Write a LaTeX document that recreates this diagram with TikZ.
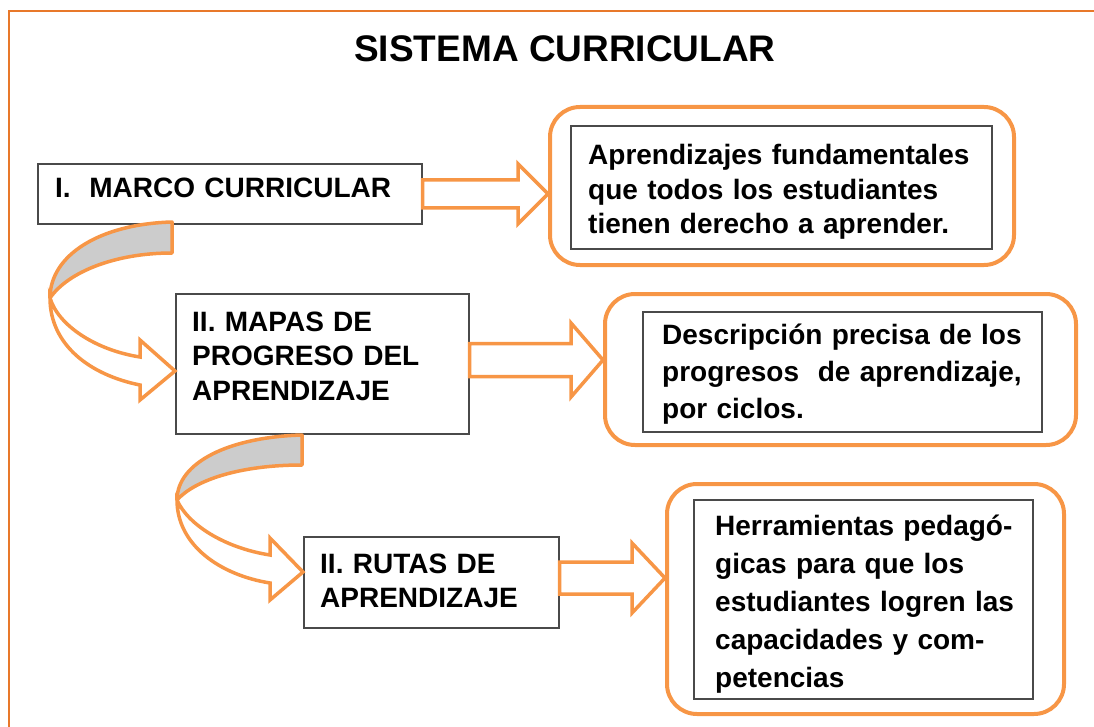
\documentclass[tikz,border=0pt]{standalone}
\usepackage{fontspec}
\setmainfont{Liberation Sans}
\usetikzlibrary{calc}
\definecolor{frameor}{HTML}{E8782A}
\definecolor{boxor}{HTML}{F79646}
\definecolor{bandgray}{HTML}{CCCCCC}
\definecolor{boxline}{HTML}{4A4A4A}
\tikzset{
  sqbox/.style={draw=boxline, line width=1.7pt, inner sep=0pt, anchor=north west},
  rbox/.style={draw=boxor, line width=4pt, rounded corners=30pt, inner sep=0pt, anchor=north west},
  txt/.style={font=\bfseries\fontsize{28}{34.5}\selectfont, inner sep=0pt, anchor=base west, align=left, text width=#1},
  blockarrow/.style={draw=boxor, fill=white, line width=3.5pt, line join=miter},
  curvegray/.style={draw=boxor, fill=bandgray, line width=3.5pt, line join=round},
  curvewhite/.style={draw=boxor, fill=white, line width=3.5pt, line join=miter},
}
\newcommand{\blockarr}[5]{% #1 start, #2 tip, #3 shaft half, #4 head half, #5 head length
  \path[blockarrow] let \p1=(#1), \p2=(#2) in
    (\x1,\y2+#3) -- (\x2-#5,\y2+#3) -- (\x2-#5,\y2+#4) -- (\x2,\y2)
    -- (\x2-#5,\y2-#4) -- (\x2-#5,\y2-#3) -- (\x1,\y2-#3) -- cycle;}
\begin{document}
\begin{tikzpicture}[x=1pt,y=-1pt]
\useasboundingbox (0,0) rectangle (1094,727);
% outer frame
\draw[frameor, line width=2.2pt] (9,727) -- (9,11) -- (1094,11);
% title
\node[font=\bfseries\fontsize{37}{40}\selectfont, inner sep=0pt, anchor=base] (title) at (565,62) {SISTEMA CURRICULAR};

% left boxes
\node[sqbox, minimum width=384pt, minimum height=60pt] (A) at (37,163) {};
\node[sqbox, minimum width=293pt, minimum height=140pt] (B) at (175,293) {};
\node[sqbox, minimum width=255pt, minimum height=91pt] (C) at (303,536) {};

\node[txt=360pt] (tA) at (55,198) {I.\ \ MARCO CURRICULAR};
\node[txt=270pt] (tB) at (192,331) {II. MAPAS DE\\PROGRESO DEL\\APRENDIZAJE};
\node[txt=230pt] (tC) at (320,573) {II. RUTAS DE\\APRENDIZAJE};

% right rounded boxes
\node[rbox, minimum width=464pt, minimum height=158pt] (R1) at (548,105) {};
\node[rbox, minimum width=471pt, minimum height=151pt] (R2) at (603,292) {};
\node[rbox, minimum width=397pt, minimum height=230pt] (R3) at (665,482) {};

\node[sqbox, minimum width=421pt, minimum height=123pt] (I1) at (570,125) {};
\node[sqbox, minimum width=399pt, minimum height=120pt] (I2) at (642,311) {};
\node[sqbox, minimum width=339pt, minimum height=199pt] (I3) at (693,499) {};

\node[txt=400pt] (t1) at (588,165) {Aprendizajes fundamentales\\que todos los estudiantes\\tienen derecho a aprender.};
\node[txt=380pt, font=\bfseries\fontsize{28}{37}\selectfont] (t2) at (662,344) {Descripción precisa de los\\progresos\ \ de aprendizaje,\\por ciclos.};
\node[txt=315pt, font=\bfseries\fontsize{28}{38}\selectfont] (t3) at (715,535) {Herramientas pedagó-\\gicas para que los\\estudiantes logren las\\capacidades y com-\\petencias};

% straight block arrows
\blockarr{A.east}{R1.west |- A.east}{14pt}{30pt}{30pt}
\blockarr{B.east}{R2.west |- 0,360}{16.5pt}{37pt}{32pt}
\blockarr{C.east}{R3.west |- 0,578}{16pt}{35pt}{33pt}

% curved arrow 1 (A to B)
\path[curvegray] (172,222) .. controls (100,224) and (50,255) .. (50,298)
  .. controls (68,272) and (115,253) .. (172,253) -- cycle;
\path[curvewhite] (50,298) .. controls (50,345) and (90,375) .. (140,385)
  -- (140,400) -- (B.west |- 0,371) -- (140,340) -- (140,357)
  .. controls (95,350) and (58,325) .. (50,298) -- cycle;

% curved arrow 2 (B to C)
\path[curvegray] (302,435) .. controls (230,437) and (177,462) .. (177,500)
  .. controls (195,480) and (240,465) .. (302,465) -- cycle;
\path[curvewhite] (177,500) .. controls (177,545) and (220,575) .. (270,583)
  -- (270,600) -- (C.west |- 0,572) -- (270,538) -- (270,555)
  .. controls (225,548) and (188,525) .. (177,500) -- cycle;
\end{tikzpicture}
\end{document}
